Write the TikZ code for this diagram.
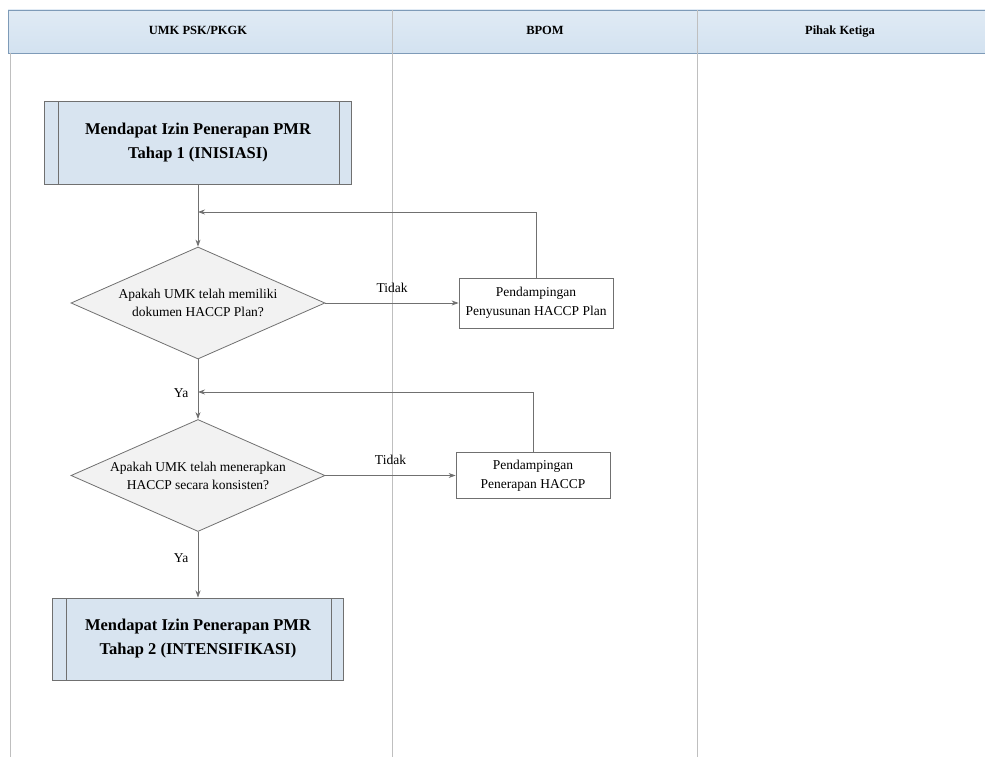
\documentclass[tikz,border=0pt]{standalone}
\usepackage{fontspec}
\setmainfont{Liberation Serif}
\usetikzlibrary{shapes.geometric, arrows.meta}

\definecolor{kopf}{HTML}{D3E2F0}
\definecolor{kopfrand}{HTML}{7E9BB8}
\definecolor{bahn}{HTML}{BFBFBF}
\definecolor{prozfill}{HTML}{D8E4F0}
\definecolor{rautefill}{HTML}{F2F2F2}
\definecolor{linie}{HTML}{707070}

\begin{document}
\begin{tikzpicture}[>={Stealth[length=7pt, width=5pt]}, x=1pt, y=-1pt, line width=0.8pt,
    prozess/.style={draw=linie, fill=prozfill, line width=1pt, align=center,
        minimum width=#1, minimum height=82pt, font=\fontsize{16.5}{24}\selectfont\bfseries,
        path picture={
            \draw[linie] ([xshift=14pt]path picture bounding box.north west) -- ([xshift=14pt]path picture bounding box.south west);
            \draw[linie] ([xshift=-12pt]path picture bounding box.north east) -- ([xshift=-12pt]path picture bounding box.south east);
        }},
    frage/.style={diamond, aspect=2.27, draw=linie, fill=rautefill, inner sep=0pt, align=center,
        minimum width=254pt, minimum height=112pt, font=\fontsize{13.5}{18}\selectfont},
    hilfe/.style={draw=linie, fill=white, align=center, inner sep=1pt,
        minimum width=154pt, font=\fontsize{13.5}{18.5}\selectfont},
    kopftext/.style={font=\fontsize{12.5}{14}\selectfont\bfseries, text height=9pt, text depth=2pt},
    label/.style={text=black, font=\fontsize{13.5}{16}\selectfont}]

        \useasboundingbox (0,0) rectangle (985,757);

        % Bahnen
        \draw[kopfrand, top color=kopf!70!white, bottom color=kopf, line width=0.9pt] (8,10) rectangle (990,53);
        \draw[bahn, line width=0.9pt] (10,53) -- (10,757);
        \draw[bahn] (392,10) -- (392,757);
        \draw[bahn] (697,10) -- (697,757);
        \node[kopftext] at (198,31) (umk) {UMK PSK/PKGK};
        \node[kopftext] at (545,31) (bpom) {BPOM};
        \node[kopftext] at (840,31) (dritte) {Pihak Ketiga};

        % Ablauf links
        \node[prozess=307pt] at (198,143) (inisiasi) {Mendapat Izin Penerapan PMR\\Tahap 1 (INISIASI)};
        \node[frage] at (198,303) (frage1) {Apakah UMK telah memiliki\\dokumen HACCP Plan?};
        \node[frage] at (198,475.5) (frage2) {Apakah UMK telah menerapkan\\HACCP secara konsisten?};
        \node[prozess=291pt] at (198,639) (intensif) {Mendapat Izin Penerapan PMR\\Tahap 2 (INTENSIFIKASI)};

        % Pendampingan
        \node[hilfe, minimum height=50pt] at (536,303) (plan) {Pendampingan\\Penyusunan HACCP Plan};
        \node[hilfe, minimum height=46pt] at (533,475.5) (terap) {Pendampingan\\Penerapan HACCP};

        % Rueckfuehrungen
        \coordinate (rueck1) at (198,212);
        \coordinate (rueck2) at (198,392);

        % Pfeile
        \draw[->, linie] (inisiasi) -- (frage1);
        \draw[->, linie] (frage1) -- node[label, above, pos=0.5, yshift=7pt] {Tidak} (plan);
        \draw[->, linie] (plan.north) |- (rueck1);
        \draw[->, linie] (frage1) -- node[label, left, pos=0.56, xshift=-6pt] {Ya} (frage2);
        \draw[->, linie] (frage2) -- node[label, above, pos=0.5, yshift=7pt] {Tidak} (terap);
        \draw[->, linie] (terap.north) |- (rueck2);
        \draw[->, linie] (frage2) -- node[label, left, pos=0.4, xshift=-6pt] {Ya} (intensif);

    \end{tikzpicture}
\end{document}
